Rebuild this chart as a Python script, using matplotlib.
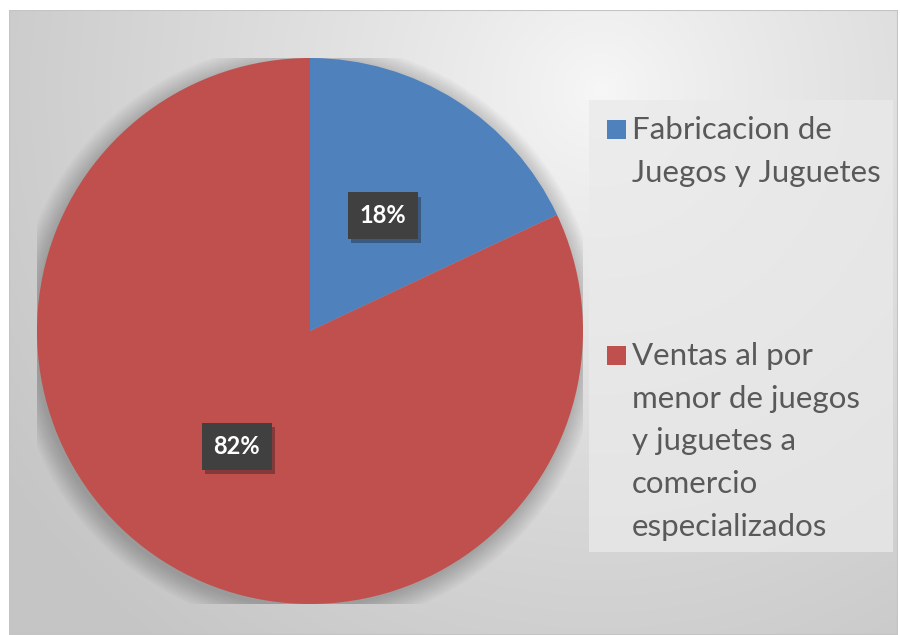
import numpy as np
import matplotlib
matplotlib.use('Agg')
import matplotlib.pyplot as plt
from matplotlib.patches import Rectangle, Circle
import matplotlib.patheffects as pe

plt.rcParams['font.family'] = ['Lato', 'DejaVu Sans']

# datos
categorias = ['Fabricacion de\nJuegos y Juguetes',
              'Ventas al por\nmenor de juegos\ny juguetes a\ncomercio\nespecializados']
porcentajes = [18, 82]
colores = ['#4F81BD', '#C0504D']

W, H = 900, 635
fig = plt.figure(figsize=(W / 100, H / 100), dpi=100)
fig.patch.set_facecolor('white')


def fx(x):
    return x / W


def fy(y):
    return 1 - y / H


# fondo con degradado radial
x0, x1, y0, y1 = 9, 898, 10, 635
bg = fig.add_axes([fx(x0), fy(y1), fx(x1 - x0), (y1 - y0) / H])
bg.set_axis_off()
xx, yy = np.meshgrid(np.arange(x0, x1), np.arange(y0, y1))
d = np.sqrt((xx - 600) ** 2 + (yy - 90) ** 2)
t = np.clip(d / 720, 0, 1) ** 0.85
g = (0xf7 - (0xf7 - 0xc5) * t) / 255
bg.imshow(np.dstack([g, g, g]), aspect='auto', extent=[0, 1, 0, 1], interpolation='bilinear')
bg.set_xlim(0, 1)
bg.set_ylim(0, 1)
bg.add_patch(Rectangle((0, 0), 1, 1, transform=bg.transAxes, fill=False,
                       ec='#c4c4c4', lw=1.5))

# pastel
cx, cy, r = 310, 331, 273
ax = fig.add_axes([fx(cx - r), fy(cy + r), 2 * r / W, 2 * r / H])
ax.set_axis_off()
for k in range(10):
    ax.add_patch(Circle((-0.01, -0.015), 1.0 + 0.008 * k, color='black',
                        alpha=0.025, lw=0, zorder=0))
wedges, texts, autotexts = ax.pie(
    porcentajes, colors=colores, startangle=90, counterclock=False,
    autopct='%1.0f%%', pctdistance=0.5, radius=1,
    wedgeprops=dict(edgecolor='none', linewidth=0),
    textprops=dict(color='white', fontsize=17, fontweight='bold'))
for w in wedges:
    w.set_zorder(2)
for at in autotexts:
    at.set_zorder(5)
    at.set_bbox(dict(boxstyle='square,pad=0.5', fc='#404040', ec='none'))
    at.get_bbox_patch().set_path_effects(
        [pe.SimplePatchShadow(offset=(2, -3), alpha=0.35), pe.Normal()])
ax.set_xlim(-1, 1)
ax.set_ylim(-1, 1)
ax.set_aspect('equal')

# leyenda
fig.patches.append(Rectangle((fx(589), fy(552)), fx(893 - 589), (552 - 100) / H,
                             transform=fig.transFigure, fc='#eaeaea', ec='none',
                             alpha=0.75, zorder=3))
leg_y = [129, 355]
for lab, col, y in zip(categorias, colores, leg_y):
    fig.patches.append(Rectangle((fx(607), fy(y + 9.5)), fx(19), 19 / H,
                                 transform=fig.transFigure, fc=col, ec='none',
                                 zorder=4))
    fig.text(fx(632), fy(y - 13), lab, fontsize=22.5, color='#595959',
             va='top', ha='left', linespacing=1.64, zorder=5)

fig.savefig('out.png', dpi=100)
